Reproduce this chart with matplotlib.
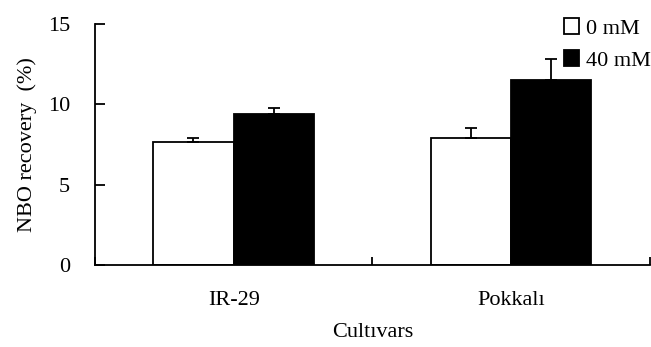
import matplotlib
matplotlib.use("Agg")
import matplotlib.pyplot as plt
from matplotlib.patches import Patch
import numpy as np

categories = ["IR-29", "Pokkalı"]
series_names = ["0 mM", "40 mM"]
values_0 = [7.65, 7.88]
values_40 = [9.4, 11.5]
err_0 = [0.25, 0.67]
err_40 = [0.35, 1.3]
yticks = [0, 5, 10, 15]

plt.rcParams['font.family'] = ['Liberation Serif', 'DejaVu Serif']
plt.rcParams['font.size'] = 16

fig = plt.figure(figsize=(6.51, 3.47), dpi=100)
ax = fig.add_axes([0.146, 0.236, 0.852, 0.695])

x = np.arange(len(categories)) + 0.5
w = 0.29
lw = 1.3
ax.bar(x - w/2, values_0, w, color='white', edgecolor='black', linewidth=lw,
       yerr=[[0]*2, err_0], error_kw=dict(ecolor='black', elinewidth=lw, capsize=4, capthick=lw), zorder=2)
ax.bar(x + w/2, values_40, w, color='black', edgecolor='black', linewidth=lw,
       yerr=[[0]*2, err_40], error_kw=dict(ecolor='black', elinewidth=lw, capsize=4, capthick=lw), zorder=2)

ax.set_xlim(0, len(categories))
ax.set_ylim(0, 15)
ax.set_yticks(yticks)
ax.set_xticks([0, 1, 2])
ax.set_xticklabels([])
ax.set_xticks(x, minor=True)
ax.set_xticklabels(categories, minor=True)
ax.tick_params(axis='x', which='major', direction='in', length=6, width=lw)
ax.tick_params(axis='x', which='minor', length=0, pad=19)
ax.tick_params(axis='y', direction='in', length=7, width=lw, pad=18)

for s in ['top', 'right']:
    ax.spines[s].set_visible(False)
for s in ['left', 'bottom']:
    ax.spines[s].set_linewidth(lw)

ax.set_ylabel("NBO recovery  (%)", labelpad=8)
ax.set_xlabel("Cultıvars", labelpad=9)

handles = [Patch(facecolor='white', edgecolor='black', linewidth=lw),
           Patch(facecolor='black', edgecolor='black', linewidth=lw)]
ax.legend(handles, series_names, loc='upper right', bbox_to_anchor=(1.018, 1.06),
          frameon=False, handlelength=0.7, handleheight=0.7, handletextpad=0.3,
          labelspacing=0.5, borderaxespad=0)

fig.savefig("out.png", dpi=100)
